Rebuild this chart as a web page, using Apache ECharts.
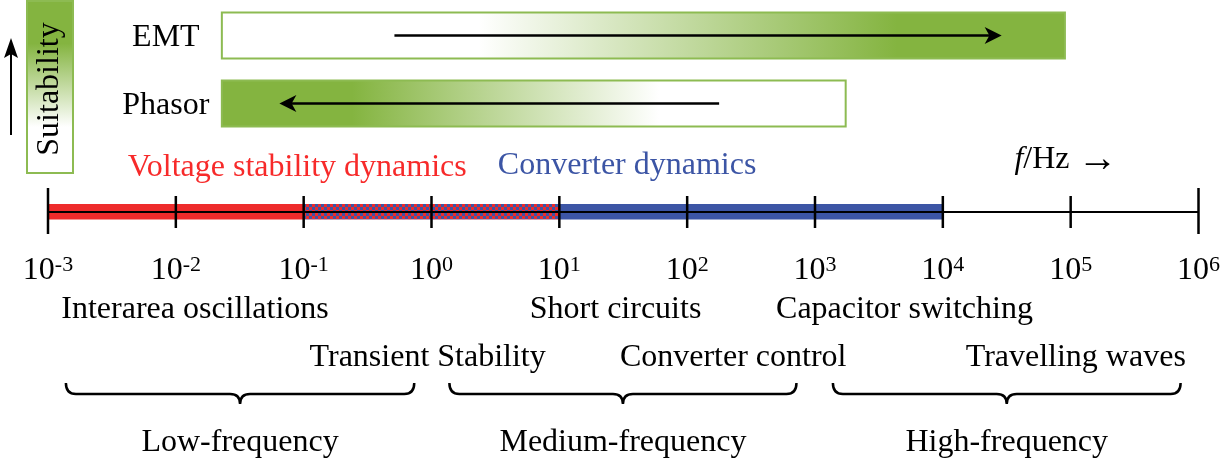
<!DOCTYPE html>
<html><head><meta charset="utf-8">
<script src="https://cdn.jsdelivr.net/npm/echarts@6/dist/echarts.min.js"></script>
<style>html,body{margin:0;padding:0;background:#fff}#c{width:1223px;height:461px}</style>
</head><body><div id="c"></div>
<script>
// ---------------- data (frequencies as log10 f in Hz where noted) ----------------
const tickExponents = [-3, -2, -1, 0, 1, 2, 3, 4, 5, 6];
const bandNames = ['Voltage stability dynamics', 'Overlap', 'Converter dynamics'];
const bandFrom = [1e-3, 1e-1, 1e1];
const bandTo = [1e-1, 1e1, 1e4];
const bandTitles = ['Voltage stability dynamics', 'Converter dynamics'];
const bandTitleLogF = [-1.05, 1.53];
const upperEvents = ['Interarea oscillations', 'Short circuits', 'Capacitor switching'];
const upperEventLogF = [-1.85, 1.44, 3.70];
const lowerEvents = ['Transient Stability', 'Converter control', 'Travelling waves'];
const lowerEventLogF = [-0.03, 2.36, 5.04];
const rangeNames = ['Low-frequency', 'Medium-frequency', 'High-frequency'];
const rangeLogFrom = [-2.86, 0.14, 3.14];
const rangeLogTo = [-0.135, 2.855, 5.86];
const methodNames = ['EMT', 'Phasor'];
const methodLogFrom = [-1.64, -1.64];
const methodLogTo = [4.955, 3.24];
const arrowLogFrom = [-0.29, 2.25];
const arrowLogTo = [4.46, -1.19];

// ---------------- styles / layout ----------------
const FONT = '"Liberation Serif","Times New Roman",serif';
const GREEN = '#84b440', GREEN_EDGE = '#8dbb52', RED = '#ee2b2b', BLUE = '#3c55a5', TXTRED = '#f72a2a';
const AXIS_Y = 212;
const lg = e => Math.pow(10, e);
const f32 = '32px ' + FONT;

function mixPattern() {
  const c = document.createElement('canvas'); c.width = 6; c.height = 6;
  const g = c.getContext('2d');
  g.fillStyle = BLUE; g.fillRect(0, 0, 6, 6);
  g.fillStyle = RED; g.fillRect(0, 0, 3, 3); g.fillRect(3, 3, 3, 3);
  return c;
}
const pattern = { image: mixPattern(), repeat: 'repeat' };

const chart = echarts.init(document.getElementById('c'), null, { renderer: 'canvas' });

function textEl(x, y, text, fill) {
  return { type: 'text', x: x, y: y, style: { text: text, font: f32, fill: fill || '#000', align: 'center', verticalAlign: 'middle' } };
}

const option = {
  animation: false,
  grid: { left: 48, right: 22, top: 0, bottom: 0 },
  xAxis: {
    type: 'log', logBase: 10, min: 1e-3, max: 1e6, position: 'bottom', offset: -(461 - AXIS_Y),
    axisLine: { show: false }, axisTick: { show: false }, splitLine: { show: false },
    axisLabel: {
      margin: 41, showMinLabel: true, showMaxLabel: true, hideOverlap: false,
      formatter: v => '{b|10}{s|' + Math.round(Math.log10(v)) + '}',
      rich: {
        b: { fontFamily: FONT, fontSize: 32, color: '#000', lineHeight: 36, verticalAlign: 'middle' },
        s: { fontFamily: FONT, fontSize: 22, color: '#000', lineHeight: 36, verticalAlign: 'top', padding: [1, 0, 0, 0] }
      }
    }
  },
  yAxis: { type: 'value', min: 0, max: 461, inverse: true, show: false },
  graphic: [
    { type: 'rect', shape: { x: 27, y: 1, width: 46, height: 172 },
      style: { fill: new echarts.graphic.LinearGradient(0, 0, 0, 1, [
        { offset: 0, color: GREEN }, { offset: 0.25, color: GREEN }, { offset: 0.73, color: '#ffffff' }, { offset: 1, color: '#ffffff' }]),
        stroke: GREEN_EDGE, lineWidth: 2 } },
    { type: 'text', x: 50, y: 89, rotation: Math.PI / 2,
      style: { text: 'Suitability', font: f32, fill: '#000', align: 'center', verticalAlign: 'middle' } },
    { type: 'line', shape: { x1: 11, y1: 135, x2: 11, y2: 52 }, style: { stroke: '#000', lineWidth: 2 } },
    { type: 'polygon', shape: { points: [[11, 38], [4, 58], [11, 54], [18, 58]] }, style: { fill: '#000' } },
    { type: 'text', x: 1066, y: 160,
      style: { text: '{i|f}/Hz {a|→}', font: f32, fill: '#000', align: 'center', verticalAlign: 'middle',
        rich: { i: { fontFamily: FONT, fontSize: 32, fontStyle: 'italic', color: '#000' },
                a: { fontFamily: FONT, fontSize: 40, color: '#000' } } } }
  ],
  series: [
    { // frequency bands
      type: 'custom', clip: false, z: 2,
      data: bandFrom.map((f, i) => [f, bandTo[i], i]),
      encode: { x: [0, 1] },
      renderItem(params, api) {
        const i = api.value(2);
        const p0 = api.coord([api.value(0), AXIS_Y]);
        const p1 = api.coord([api.value(1), AXIS_Y]);
        const fill = i === 0 ? RED : (i === 2 ? BLUE : pattern);
        return { type: 'rect', shape: { x: p0[0], y: p0[1] - 8, width: p1[0] - p0[0], height: 15.5 }, style: { fill: fill } };
      }
    },
    { // axis line and ticks
      type: 'custom', clip: false, z: 3,
      data: tickExponents.map(e => [lg(e)]),
      encode: { x: 0 },
      renderItem(params, api) {
        const p = api.coord([api.value(0), AXIS_Y]);
        const end = params.dataIndex === 0 || params.dataIndex === tickExponents.length - 1;
        const children = [{ type: 'line', shape: { x1: p[0], y1: p[1] - (end ? 24 : 16), x2: p[0], y2: p[1] + (end ? 22 : 16) }, style: { stroke: '#000', lineWidth: 2.5 } }];
        if (params.dataIndex === 0) {
          const q = api.coord([lg(tickExponents[tickExponents.length - 1]), AXIS_Y]);
          children.push({ type: 'line', shape: { x1: p[0], y1: p[1], x2: q[0], y2: q[1] }, style: { stroke: '#000', lineWidth: 2.2 } });
        }
        return { type: 'group', children: children };
      }
    },
    { // band titles
      type: 'custom', clip: false,
      data: bandTitleLogF.map((e, i) => [lg(e), i]),
      encode: { x: 0 },
      renderItem(params, api) {
        const i = api.value(1);
        const p = api.coord([api.value(0), i === 0 ? 168 : 166]);
        return textEl(p[0], p[1], bandTitles[i], i === 0 ? TXTRED : BLUE);
      }
    },
    { // upper event labels
      type: 'custom', clip: false,
      data: upperEventLogF.map((e, i) => [lg(e), i]),
      encode: { x: 0 },
      renderItem(params, api) {
        const p = api.coord([api.value(0), 310]);
        return textEl(p[0], p[1], upperEvents[api.value(1)]);
      }
    },
    { // lower event labels
      type: 'custom', clip: false,
      data: lowerEventLogF.map((e, i) => [lg(e), i]),
      encode: { x: 0 },
      renderItem(params, api) {
        const p = api.coord([api.value(0), 358]);
        return textEl(p[0], p[1], lowerEvents[api.value(1)]);
      }
    },
    { // braces and range names
      type: 'custom', clip: false,
      data: rangeLogFrom.map((e, i) => [lg(e), lg(rangeLogTo[i]), i]),
      encode: { x: [0, 1] },
      renderItem(params, api) {
        const yt = 383, yl = 394, yp = 404, r = 10;
        const x0 = api.coord([api.value(0), yt])[0];
        const x1 = api.coord([api.value(1), yt])[0];
        const xm = (x0 + x1) / 2;
        const d = 'M' + x0 + ',' + yt + ' Q' + x0 + ',' + yl + ' ' + (x0 + r) + ',' + yl +
          ' L' + (xm - r) + ',' + yl + ' Q' + xm + ',' + yl + ' ' + xm + ',' + yp +
          ' Q' + xm + ',' + yl + ' ' + (xm + r) + ',' + yl +
          ' L' + (x1 - r) + ',' + yl + ' Q' + x1 + ',' + yl + ' ' + x1 + ',' + yt;
        return { type: 'group', children: [
          { type: 'path', shape: { pathData: d }, style: { stroke: '#000', lineWidth: 2.5, fill: null } },
          textEl(xm, 443, rangeNames[api.value(2)])
        ] };
      }
    },
    { // simulation method boxes
      type: 'custom', clip: false,
      data: methodLogFrom.map((e, i) => [lg(e), lg(methodLogTo[i]), lg(arrowLogFrom[i]), lg(arrowLogTo[i]), i]),
      encode: { x: [0, 1, 2, 3] },
      renderItem(params, api) {
        const i = api.value(4);
        const yc = i === 0 ? 35.5 : 103.5, h = 46;
        const x0 = api.coord([api.value(0), yc])[0];
        const x1 = api.coord([api.value(1), yc])[0];
        const a0 = api.coord([api.value(2), yc])[0];
        const a1 = api.coord([api.value(3), yc])[0];
        const dir = a1 > a0 ? 1 : -1;
        const stops = i === 0
          ? [{ offset: 0, color: '#ffffff' }, { offset: 0.305, color: '#ffffff' }, { offset: 0.80, color: GREEN }, { offset: 1, color: GREEN }]
          : [{ offset: 0, color: GREEN }, { offset: 0.21, color: GREEN }, { offset: 0.70, color: '#ffffff' }, { offset: 1, color: '#ffffff' }];
        const L = 17, W = 8.5;
        return { type: 'group', children: [
          { type: 'rect', shape: { x: x0, y: yc - h / 2, width: x1 - x0, height: h },
            style: { fill: new echarts.graphic.LinearGradient(0, 0, 1, 0, stops), stroke: GREEN_EDGE, lineWidth: 2 } },
          { type: 'line', shape: { x1: a0, y1: yc, x2: a1 - dir * L * 0.6, y2: yc }, style: { stroke: '#000', lineWidth: 2.3 } },
          { type: 'polygon', shape: { points: [[a1, yc], [a1 - dir * L, yc - W], [a1 - dir * L * 0.72, yc], [a1 - dir * L, yc + W]] }, style: { fill: '#000' } },
          textEl(x0 - 56, yc + 2, methodNames[i])
        ] };
      }
    }
  ]
};
chart.setOption(option);
</script>
</body></html>
